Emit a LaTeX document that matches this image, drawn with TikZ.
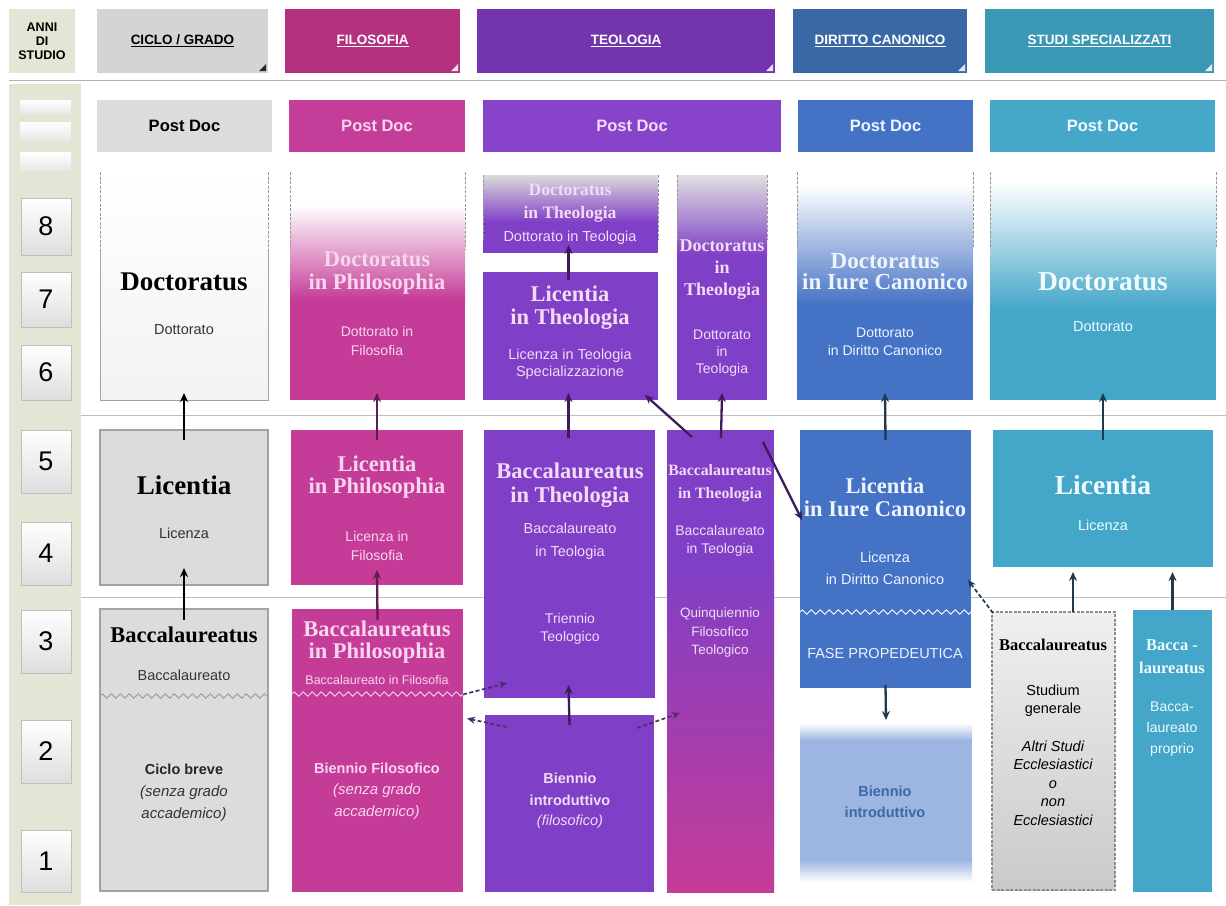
\documentclass[tikz,border=0pt]{standalone}
\usepackage{fontspec}
\setmainfont{Liberation Serif}
\setsansfont{Liberation Sans}
\usetikzlibrary{arrows.meta,decorations.pathmorphing,calc}
\definecolor{grn}{HTML}{E2E6D4}
\definecolor{hgray}{HTML}{D4D4D4}
\definecolor{hmag}{HTML}{B3317F}
\definecolor{hpur}{HTML}{7434AE}
\definecolor{hblu}{HTML}{3A68A6}
\definecolor{htea}{HTML}{3A98B4}
\definecolor{pgray}{HTML}{DCDCDC}
\definecolor{pmag}{HTML}{C43D98}
\definecolor{ppur}{HTML}{8744CB}
\definecolor{pblu}{HTML}{4472C4}
\definecolor{ptea}{HTML}{46A8C9}
\definecolor{bgr}{HTML}{DCDCDC}
\definecolor{bmag}{HTML}{C53C98}
\definecolor{bpur}{HTML}{7F3FC6}
\definecolor{bblu}{HTML}{4472C4}
\definecolor{btea}{HTML}{44A6C8}
\definecolor{lblu}{HTML}{9DB6E1}
\definecolor{tmag}{HTML}{F7D5EF}
\definecolor{tpur}{HTML}{F3DAF6}
\definecolor{tblu}{HTML}{EEF4FF}
\definecolor{ttea}{HTML}{EEFCFF}
\definecolor{bord}{HTML}{A3A3A3}
\definecolor{amag}{HTML}{5E1D50}
\definecolor{apur}{HTML}{3E1C5C}
\definecolor{ablu}{HTML}{1E3A4C}
\definecolor{dpur}{HTML}{4E2D68}
\newcommand\fsz[2]{\fontsize{#1}{#2}\selectfont}
\newcommand\bx[7][]{%
  \pgfmathsetmacro\bw{#5-#3}\pgfmathsetmacro\bh{#6-#4}%
  \pgfmathsetmacro\bcx{(#3+#5)/2}\pgfmathsetmacro\bcy{(#4+#6)/2}%
  \node[inner sep=0pt,outer sep=0pt,minimum width=\bw pt,minimum height=\bh pt,#1] (#2) at (\bcx,\bcy) {#7};}
\newcommand\tri[2]{\fill[#2] ([xshift=-2pt,yshift=2pt]#1.south east) -- ++(-7,0) -- ++(7,-7) -- cycle;}
\tikzset{
 ser/.style 2 args={font=\rmfamily\bfseries\fsz{#1}{#2},align=center,inner sep=0pt},
 sans/.style 2 args={font=\sffamily\fsz{#1}{#2},align=center,inner sep=0pt},
 sansb/.style 2 args={font=\sffamily\bfseries\fsz{#1}{#2},align=center,inner sep=0pt},
 sansi/.style 2 args={font=\sffamily\itshape\fsz{#1}{#2},align=center,inner sep=0pt},
 hdr/.style={font=\sffamily\bfseries\fsz{13.5}{15}},
 pd/.style={font=\sffamily\bfseries\fsz{16.5}{18}},
 num/.style={draw=black!25,top color=white,bottom color=black!13,font=\sffamily\fsz{27}{27}},
 lbox/.style={top color=white,bottom color=black!9},
 arr/.style={-{Stealth[length=9pt,width=8pt]},line width=2.3pt},
 darr/.style={-{Stealth[length=8pt,width=7pt]},line width=1.7pt,dash pattern=on 4pt off 2.5pt},
 dsh/.style={draw=black!40,line width=1pt,dash pattern=on 3pt off 1.5pt},
 wave/.style={decorate,decoration={zigzag,amplitude=2.2pt,segment length=9pt},line width=0.8pt},
}
\begin{document}
\begin{tikzpicture}[x=1pt,y=-1pt]
\fill[white] (0,0) rectangle (1226,905);
\path[use as bounding box] (0,0) rectangle (1226,905);
% left panel
\bx[fill=grn]{anni}{9}{9}{75}{73}{}
\node[sansb={12.5}{14}] (anniT) at (42,41) {ANNI\\DI\\STUDIO};
\bx[fill=grn]{panel}{9}{84}{81}{905}{}
\draw[black!30] (9,80) -- (1226,80);
\draw[black!25] (81,415) -- (1226,415);
\draw[black!25] (81,597) -- (1226,597);
% headers
\bx[fill=hgray,hdr,text=black]{h1}{97}{9}{268}{73}{\underline{CICLO / GRADO}}
\tri{h1}{black!85}
\bx[fill=hmag,hdr,text=white]{h2}{285}{9}{460}{73}{\underline{FILOSOFIA}}
\tri{h2}{white!85!hmag}
\bx[fill=hpur,hdr,text=white]{h3}{477}{9}{775}{73}{\underline{TEOLOGIA}}
\tri{h3}{white!85!hpur}
\bx[fill=hblu,hdr,text=white]{h4}{793}{9}{967}{73}{\underline{DIRITTO CANONICO}}
\tri{h4}{white!85!hblu}
\bx[fill=htea,hdr,text=white]{h5}{985}{9}{1214}{73}{\underline{STUDI SPECIALIZZATI}}
\tri{h5}{white!85!htea}
% post doc
\bx[fill=pgray,pd,text=black]{pd1}{97}{100}{272}{152}{Post Doc}
\bx[fill=pmag,pd,text=tmag]{pd2}{289}{100}{465}{152}{Post Doc}
\bx[fill=ppur,pd,text=tpur]{pd3}{483}{100}{781}{152}{Post Doc}
\bx[fill=pblu,pd,text=tblu]{pd4}{798}{100}{973}{152}{Post Doc}
\bx[fill=ptea,pd,text=ttea]{pd5}{990}{100}{1215}{152}{Post Doc}
% year boxes
\bx[lbox]{lb1}{20}{100}{71}{113}{}
\bx[lbox]{lb2}{20}{122}{71}{140}{}
\bx[lbox]{lb3}{20}{152}{71}{170}{}
\bx[num]{n8}{21}{198}{71}{255}{8}
\bx[num]{n7}{21}{272}{71}{327}{7}
\bx[num]{n6}{21}{345}{71}{400}{6}
\bx[num]{n5}{21}{430}{71}{493}{5}
\bx[num]{n4}{21}{522}{71}{585}{4}
\bx[num]{n3}{21}{610}{71}{673}{3}
\bx[num]{n2}{21}{720}{71}{783}{2}
\bx[num]{n1}{21}{830}{71}{892}{1}
% ---------- doctorate row
\bx[top color=white,bottom color=black!5]{dgray}{100}{172}{268}{400}{}
\draw[bord,line width=1pt] (100,250) -- (100,400) -- (268,400) -- (268,250);
\draw[dsh] (100,172) -- (100,250); \draw[dsh] (268,172) -- (268,250);
\shade[top color=white,bottom color=bmag] (290,205) rectangle (465,300);
\fill[bmag] (290,300) rectangle (465,400);
\bx{dphil}{290}{172}{465}{400}{}
\draw[dsh] (290,172) -- (290,250); \draw[dsh] (465,172) -- (465,250);
\shade[top color=black!14,bottom color=bpur] (483,175) rectangle (658,222);
\fill[bpur] (483,222) rectangle (658,253);
\bx{dtheol}{483}{175}{658}{253}{}
\draw[dsh] (483,175) -- (483,240); \draw[dsh] (658,175) -- (658,240);
\bx[fill=bpur]{ltheol}{483}{272}{658}{400}{}
\shade[top color=black!12,bottom color=bpur] (677,175) rectangle (767,255);
\fill[bpur] (677,255) rectangle (767,400);
\bx{dnar}{677}{175}{767}{400}{}
\draw[dsh] (677,175) -- (677,240); \draw[dsh] (767,175) -- (767,240);
\shade[top color=white,bottom color=bblu] (797,185) rectangle (973,305);
\fill[bblu] (797,305) rectangle (973,400);
\bx{dIC}{797}{172}{973}{400}{}
\draw[dsh] (797,172) -- (797,248); \draw[dsh] (973,172) -- (973,248);
\shade[top color=white,bottom color=btea] (990,182) rectangle (1216,310);
\fill[btea] (990,310) rectangle (1216,400);
\bx{dteal}{990}{172}{1216}{400}{}
\draw[dsh] (990,172) -- (990,248); \draw[dsh] (1216,172) -- (1216,248);
% ---------- licentia row
\bx[fill=bgr,draw=bord,line width=1.2pt]{lgray}{100}{430}{268}{585}{}
\bx[fill=bmag]{lphil}{291}{430}{463}{585}{}
\bx[fill=bpur]{btheol}{484}{430}{655}{698}{}
\shade[top color=bpur,bottom color=bmag] (667,560) rectangle (774,892);
\fill[bpur] (667,430) rectangle (774,560);
\bx{bnar}{667}{430}{774}{892}{}
\bx[fill=bblu]{licIC}{800}{430}{971}{688}{}
\bx[fill=btea]{lteal}{993}{430}{1213}{567}{}
% ---------- baccalaureate row
\bx[fill=bgr,draw=bord,line width=1.2pt]{bgray}{100}{609}{268}{891}{}
\bx[fill=bmag]{bphil}{292}{609}{463}{892}{}
\bx[fill=bpur]{bienn}{485}{715}{654}{892}{}
\fill[lblu] (800,740) rectangle (972,860);
\shade[top color=white,bottom color=lblu] (800,723) rectangle (972,740);
\shade[top color=lblu,bottom color=white] (800,860) rectangle (972,882);
\bx{bienIC}{800}{723}{972}{880}{}
\bx[top color=black!6,bottom color=black!21,draw=black!45,dash pattern=on 3pt off 1.5pt,line width=1.3pt]{bstud}{992}{612}{1115}{890}{}
\bx[fill=btea]{bacca}{1133}{610}{1212}{892}{}
% waves
\draw[wave,black!40] (100,696) -- (268,696);
\draw[wave,tmag] (292,694) -- (463,694);
\draw[wave,white] (800,612) -- (971,612);
% ---------- texts: ciclo
\node[ser={27}{29}] (t1) at (184,282) {Doctoratus};
\node[sans={14.5}{17},text=black!80] (t2) at (184,330) {Dottorato};
\node[ser={27}{29}] (t3) at (184,485) {Licentia};
\node[sans={14.5}{17},text=black!80] (t4) at (184,533) {Licenza};
\node[ser={22.5}{24}] (t5) at (184,635) {Baccalaureatus};
\node[sans={14.5}{17},text=black!80] (t6) at (184,675) {Baccalaureato};
\node[sansb={14.5}{17},text=black!85] (t7) at (184,769) {Ciclo breve};
\node[sansi={15}{22},text=black!80] (t8) at (184,804) {(senza grado\\accademico)};
% filosofia
\node[ser={22.5}{23},text=tmag] (t9) at (377,273) {Doctoratus\\in Philosophia};
\node[sans={14}{19},text=tmag] (t10) at (377,341) {Dottorato in\\Filosofia};
\node[ser={22.5}{22},text=tmag] (t11) at (377,477) {Licentia\\in Philosophia};
\node[sans={14}{19},text=tmag] (t12) at (377,546) {Licenza in\\Filosofia};
\node[ser={22.5}{22},text=tmag] (t13) at (377,642) {Baccalaureatus\\in Philosophia};
\node[sans={12.5}{14},text=tmag] (t14) at (377,680) {Baccalaureato in Filosofia};
\node[sansb={14.5}{17},text=tmag] (t15) at (377,768) {Biennio Filosofico};
\node[sansi={15}{22},text=tmag] (t16) at (377,802) {(senza grado\\accademico)};
% teologia
\node[ser={17.5}{23},text=tpur] (t17) at (570,203) {Doctoratus\\in Theologia};
\node[sans={14.5}{17},text=tpur] (t18) at (570,238) {Dottorato in Teologia};
\node[ser={22.5}{23},text=tpur] (t19) at (570,308) {Licentia\\in Theologia};
\node[sans={14.5}{16.5},text=tpur] (t20) at (570,364) {Licenza in Teologia\\Specializzazione};
\node[ser={18}{22},text=tpur] (t21) at (722,270) {Doctoratus\\in\\Theologia};
\node[sans={14}{17},text=tpur] (t22) at (722,353) {Dottorato\\in\\Teologia};
\node[ser={22.5}{24},text=tpur] (t23) at (570,485) {Baccalaureatus\\in Theologia};
\node[sans={14.5}{23},text=tpur] (t24) at (570,541) {Baccalaureato\\in Teologia};
\node[sans={14}{18},text=tpur] (t25) at (570,629) {Triennio\\Teologico};
\node[ser={15.8}{23},text=tpur] (t26) at (720,483) {Baccalaureatus\\in Theologia};
\node[sans={14}{18},text=tpur] (t27) at (720,541) {Baccalaureato\\in Teologia};
\node[sans={13.5}{18.5},text=tpur] (t28) at (720,633) {Quinquiennio\\Filosofico\\Teologico};
\node[sansb={14.5}{22},text=tpur] (t29) at (570,789) {Biennio\\introduttivo};
\node[sansi={14.5}{17},text=tpur] (t30) at (570,822) {(filosofico)};
% diritto canonico
\node[ser={23}{21},text=tblu] (t31) at (885,272) {Doctoratus\\in Iure Canonico};
\node[sans={14}{18},text=tblu] (t32) at (885,342) {Dottorato\\in Diritto Canonico};
\node[ser={22.5}{23},text=tblu] (t33) at (885,497) {Licentia\\in Iure Canonico};
\node[sans={14.5}{22},text=tblu] (t34) at (885,568) {Licenza\\in Diritto Canonico};
\node[sans={14.5}{17},text=tblu] (t35) at (885,653) {FASE PROPEDEUTICA};
\node[sansb={14.5}{21},text=hblu] (t36) at (885,802) {Biennio\\introduttivo};
% studi specializzati
\node[ser={27.5}{29},text=ttea] (t37) at (1103,282) {Doctoratus};
\node[sans={14.5}{17},text=ttea] (t38) at (1103,327) {Dottorato};
\node[ser={27.5}{29},text=ttea] (t39) at (1103,485) {Licentia};
\node[sans={14.5}{17},text=ttea] (t40) at (1103,525) {Licenza};
\node[ser={16.5}{18}] (t41) at (1053,645) {Baccalaureatus};
\node[sans={14.5}{18}] (t42) at (1053,701) {Studium\\generale};
\node[sansi={14.5}{18.5}] (t43) at (1053,783) {Altri Studi\\Ecclesiastici\\o\\non\\Ecclesiastici};
\node[ser={16.5}{23},text=ttea] (t44) at (1172,657) {Bacca -\\laureatus};
\node[sans={14}{21},text=ttea] (t45) at (1172,729) {Bacca-\\laureato\\proprio};
% ---------- arrows
\draw[arr,black] ([yshift=-11pt]bgray.north) -- ([yshift=17pt]lgray.south);
\draw[arr,black] ([yshift=-10pt]lgray.north) -- ([yshift=7pt]dgray.south);
\draw[arr,amag] ([yshift=-11pt]bphil.north) -- ([yshift=15pt]lphil.south);
\draw[arr,amag] ([yshift=-10pt]lphil.north) -- ([xshift=-0.5pt,yshift=7pt]dphil.south);
\draw[arr,apur] ([yshift=-10pt]bienn.north) -- ([xshift=-1pt,yshift=13pt]btheol.south);
\draw[arr,apur] ([xshift=-1pt,yshift=-8pt]btheol.north) -- ([xshift=-2pt,yshift=7pt]ltheol.south);
\draw[arr,apur] ([xshift=-2pt,yshift=-8pt]ltheol.north) -- ([xshift=-2pt,yshift=8pt]dtheol.south);
\draw[arr,apur] ([xshift=0.5pt,yshift=-8pt]bnar.north) -- ([yshift=7pt]dnar.south);
\draw[arr,apur] ([xshift=25pt,yshift=-7pt]bnar.north west) -- ([xshift=-13pt,yshift=5pt]ltheol.south east);
\draw[arr,apur] ([xshift=-11pt,yshift=-12pt]bnar.north east) -- ([xshift=2pt,yshift=39pt]licIC.west);
\draw[arr,ablu] ([yshift=-10pt]licIC.north) -- ([yshift=7pt]dIC.south);
\draw[arr,ablu] ([yshift=3pt]licIC.south) -- ([yshift=3pt]bienIC.north);
\draw[arr,ablu] ([yshift=-10pt]lteal.north) -- ([yshift=7pt]dteal.south);
\draw[arr,ablu] ([xshift=19.5pt]bstud.north) -- ([xshift=-30pt,yshift=-5pt]lteal.south);
\draw[arr,ablu] (bacca.north) -- ($(bacca.north |- lteal.south)+(0,5)$);
\draw[darr,ablu] ([xshift=1pt,yshift=-1pt]bstud.north west) -- ([xshift=-3pt,yshift=-21pt]licIC.east);
\draw[darr,dpur] ([yshift=56pt]bphil.east) -- ([xshift=23pt,yshift=15pt]btheol.south west);
\draw[darr,dpur] ([xshift=22pt,yshift=-12pt]bienn.north west) -- ([xshift=4pt,yshift=32pt]bphil.east);
\draw[darr,dpur] ([xshift=-17pt,yshift=-13pt]bienn.north east) -- ([xshift=13pt,yshift=-52pt]bnar.west);
\end{tikzpicture}
\end{document}
